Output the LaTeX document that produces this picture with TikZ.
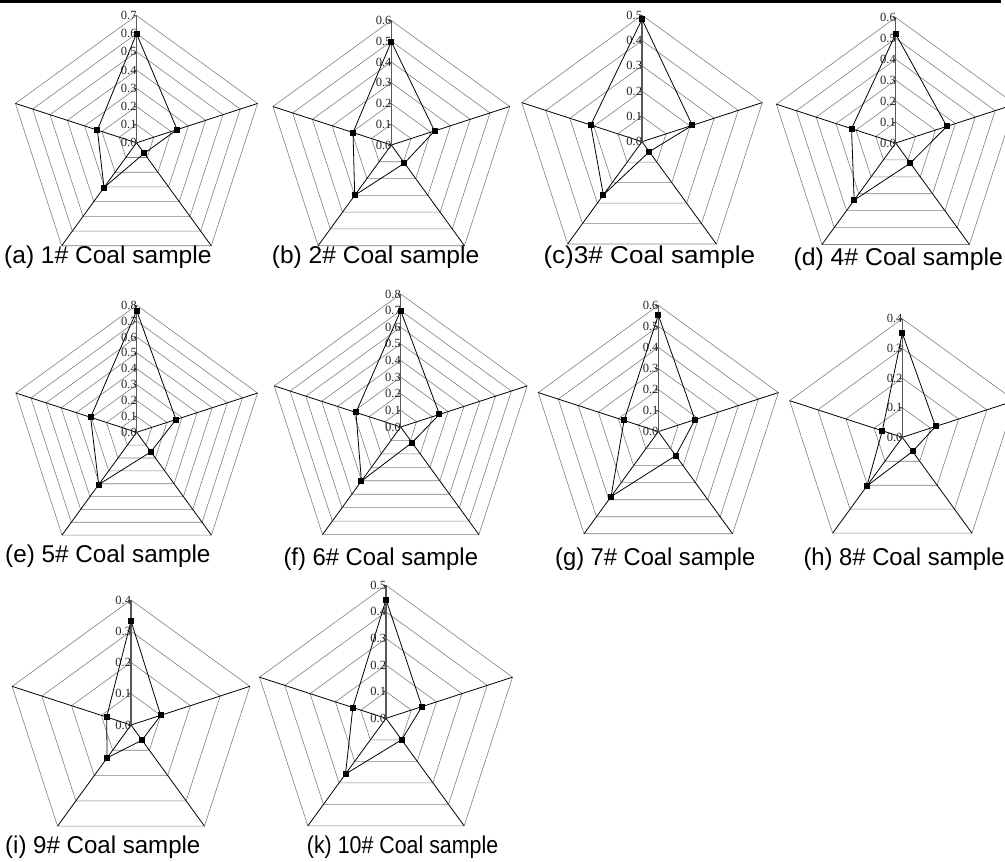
\documentclass[tikz,border=0pt]{standalone}
\usepackage{graphicx}
\usepackage{fontspec}
\setmainfont{Liberation Sans}
\newfontfamily\labelfont{Liberation Serif}
\tikzset{
 ring/.style={draw=black!50, line width=0.6pt},
 spoke/.style={draw=black, line width=0.8pt},
 axisline/.style={draw=black!65, line width=1.2pt},
 tickmark/.style={draw=black!65, line width=0.6pt},
 data/.style={draw=black, line width=0.8pt},
 marker/.style={fill=black, minimum size=6pt, inner sep=0pt, rectangle},
 ticklabel/.style={font=\labelfont\fontsize{12.5}{13}\selectfont, text=black!85, anchor=east, inner sep=0.5pt},
 caption/.style={font=\fontsize{24.3}{29}\selectfont, anchor=base west, inner sep=0pt},
}
% #1 cx, #2 cy (px from top), #3 R, #4 rings, #5..#9 values (top, UR, BR, BL, UL) in ring units
\newcommand\radarchart[9]{%
\begin{scope}[shift={(#1,{862-#2})}]
 \foreach \k in {1,...,#4}{\pgfmathsetmacro\rr{#3*\k/#4}
   \draw[ring] (90:\rr) -- (18:\rr) -- (-54:\rr) -- (234:\rr) -- (162:\rr) -- cycle;}
 \foreach \a in {18,-54,234,162}{\draw[spoke] (0,0) -- (\a:#3);}
 \draw[axisline] (0,0) -- (90:#3);
 \foreach \k in {0,...,#4}{\pgfmathsetmacro\yy{#3*\k/#4}
   \draw[tickmark] (-3,\yy) -- (0,\yy);
   \node[ticklabel] (t\k) at (0.8,\yy) {0.\k};}
 \node[marker] (m1) at (90:{#3*#5/#4}) {};
 \node[marker] (m2) at (18:{#3*#6/#4}) {};
 \node[marker] (m3) at (-54:{#3*#7/#4}) {};
 \node[marker] (m4) at (234:{#3*#8/#4}) {};
 \node[marker] (m5) at (162:{#3*#9/#4}) {};
 \draw[data] (m1.center) -- (m2.center) -- (m3.center) -- (m4.center) -- (m5.center) -- cycle;
\end{scope}}
\begin{document}
\begin{tikzpicture}[x=1pt,y=1pt]
\useasboundingbox (0,0) rectangle (1005,862);
\clip (0,0) rectangle (1005,862);
\fill[black] (0,862) rectangle (1001,859.3);
% row 1
\radarchart{136.5}{142.8}{127.3}{7}{6.0}{2.35}{0.72}{3.04}{2.26}
\radarchart{391.3}{145}{124.5}{6}{4.98}{2.19}{1.08}{3.0}{1.94}
\radarchart{642}{141.7}{126.5}{5}{4.84}{2.09}{0.49}{2.6}{2.13}
\radarchart{895.7}{143}{125.5}{6}{5.21}{2.57}{1.19}{3.38}{2.22}
% row 2
\radarchart{136.7}{432.3}{127.1}{8}{7.65}{2.6}{1.52}{4.07}{3.05}
\radarchart{400.7}{427}{133}{8}{7.0}{2.45}{1.16}{4.02}{2.83}
\radarchart{658.3}{431.6}{126.3}{6}{5.54}{1.83}{1.41}{3.82}{1.71}
\radarchart{902.3}{437.3}{118.5}{4}{3.51}{1.18}{0.59}{2.03}{0.71}
% row 3
\radarchart{131}{725}{125}{4}{3.33}{1.0}{0.6}{1.3}{0.82}
\radarchart{386}{718.3}{133}{5}{4.46}{1.42}{1.0}{2.59}{1.31}
% captions
\node[caption] (ca) at (4,{862-263.3}) {\scalebox{1.01}[1]{(a) 1\# Coal sample}};
\node[caption] (cb) at (271.7,{862-263.3}) {\scalebox{1.01}[1]{(b) 2\# Coal sample}};
\node[caption] (cc) at (543.3,{862-263.3}) {\scalebox{1.074}[1]{(c)3\# Coal sample}};
\node[caption] (cd) at (793.3,{862-266}) {\scalebox{1.02}[1]{(d) 4\# Coal sample}};
\node[caption] (ce) at (5,{862-562.7}) {(e) 5\# Coal sample};
\node[caption] (cf) at (283.3,{862-566}) {\scalebox{0.98}[1]{(f) 6\# Coal sample}};
\node[caption] (cg) at (555,{862-566}) {\scalebox{0.975}[1]{(g) 7\# Coal sample}};
\node[caption] (ch) at (803.3,{862-566}) {\scalebox{0.98}[1]{(h) 8\# Coal sample}};
\node[caption] (ci) at (5,{862-854}) {\scalebox{0.99}[1]{(i) 9\# Coal sample}};
\node[caption] (ck) at (306.7,{862-854}) {\scalebox{0.88}[1]{(k) 10\# Coal sample}};
\end{tikzpicture}
\end{document}
